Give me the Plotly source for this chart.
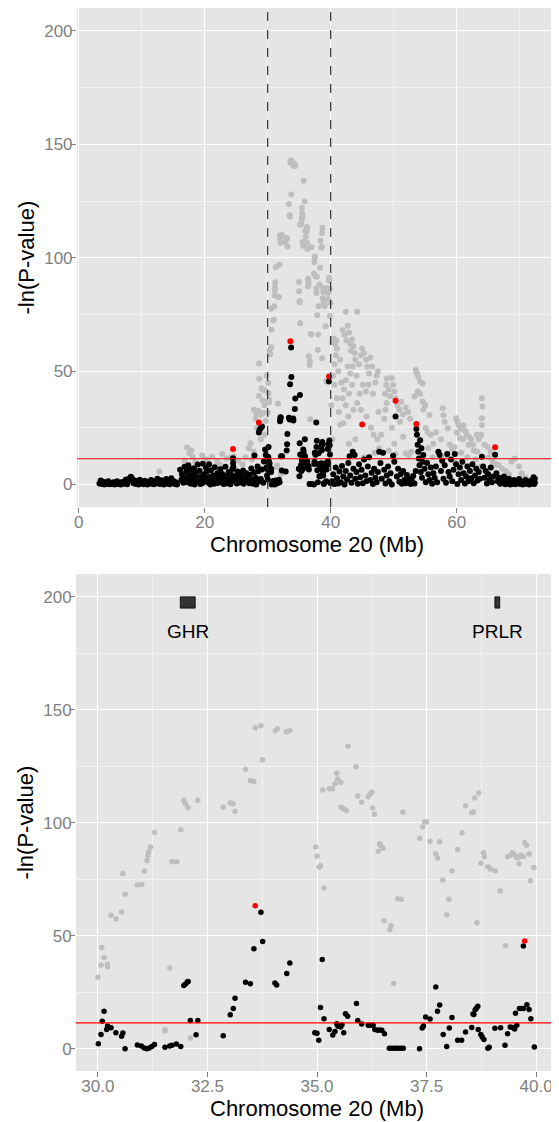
import plotly.graph_objects as go
import pandas as pd

# -ln(P-value) along chromosome 20 as (Mb, value)
# gray = first analysis, black = second analysis, red = top SNPs
gray_pts = [
    (12.8, 5.7),
    (16.8, 10.5), (17.2, 16.3), (17.6, 13.8), (17.9, 15.0), (18.1, 12.3), (18.5, 9.8), (19.6, 12.8),
    (20.3, 11.0), (21.2, 12.3), (22.0, 10.1), (22.5, 8.7), (22.8, 13.5), (23.5, 11.5), (24.0, 11.8),
    (24.6, 12.5), (25.3, 10.5), (26.0, 9.0), (26.5, 12.0), (27.0, 16.0), (27.3, 18.2), (27.5, 11.0),
    (27.8, 14.5), (27.8, 33.0), (28.1, 29.0), (28.2, 31.4), (28.3, 25.0), (28.5, 32.5), (28.6, 39.0),
    (28.65, 53.4), (28.65, 46.6), (28.9, 30.8), (28.9, 20.0), (29.0, 42.4), (29.2, 37.0), (29.3, 41.8),
    (29.3, 31.5), (29.5, 22.0), (29.5, 35.0), (29.6, 41.4), (29.7, 28.0), (29.8, 48.0),
    (30.00, 31.6), (30.07, 36.9), (30.09, 44.8), (30.14, 40.3), (30.22, 37.4), (30.22, 36.3), (30.30, 59.0),
    (30.41, 57.4), (30.54, 60.5), (30.57, 77.5), (30.62, 68.3), (30.90, 72.4), (31.00, 72.7), (31.06, 78.6),
    (31.12, 83.3), (31.14, 85.5), (31.16, 87.1), (31.20, 89.2), (31.29, 95.8), (31.53, 8.4), (31.53, 7.8),
    (31.64, 35.7), (31.69, 82.7), (31.80, 82.7), (31.89, 96.9), (31.96, 109.9), (32.00, 108.4), (32.06, 106.6),
    (32.11, 4.7), (32.28, 110.0), (32.86, 106.9), (33.02, 108.7), (33.08, 108.5), (33.13, 105.0), (33.37, 123.7),
    (33.48, 118.7), (33.56, 118.2), (33.59, 142.0), (33.72, 142.9), (33.76, 127.9), (34.05, 140.7), (34.10, 141.6),
    (34.30, 140.3), (34.38, 140.8), (34.97, 89.3), (35.00, 85.2), (35.05, 80.4), (35.08, 80.9), (35.13, 114.5),
    (35.16, 71.1), (35.28, 115.0), (35.35, 115.0), (35.41, 117.2), (35.45, 121.9), (35.47, 119.4), (35.54, 117.8),
    (35.55, 106.8), (35.61, 106.2), (35.67, 105.3), (35.71, 133.9), (35.89, 124.8), (35.93, 111.8), (36.02, 109.1),
    (36.17, 111.5), (36.21, 112.6), (36.25, 113.5), (36.27, 106.5), (36.31, 103.8), (36.40, 87.4), (36.43, 90.7),
    (36.45, 89.9), (36.51, 88.7), (36.53, 56.6), (36.66, 52.7), (36.69, 54.4), (36.75, 28.8), (36.84, 66.4),
    (36.92, 66.1), (36.96, 104.6), (37.34, 93.0), (37.41, 98.1), (37.46, 100.4), (37.50, 100.3), (37.58, 91.8),
    (37.71, 86.3), (37.75, 84.4), (37.80, 91.6), (37.87, 74.6), (37.96, 59.3), (38.01, 66.1), (38.08, 78.6),
    (38.21, 88.2), (38.31, 95.6), (38.39, 107.5), (38.53, 104.4), (38.57, 104.8), (38.60, 110.9), (38.69, 113.2),
    (38.65, 55.7), (38.74, 82.1), (38.80, 86.7), (38.82, 84.9), (38.90, 80.5), (38.96, 79.5), (39.07, 78.7),
    (39.18, 69.8), (39.30, 45.5), (39.35, 84.9), (39.40, 85.5), (39.46, 86.7), (39.49, 86.2), (39.53, 85.2),
    (39.57, 84.5), (39.61, 81.8), (39.62, 85.0), (39.66, 85.6), (39.71, 85.0), (39.74, 91.2), (39.78, 90.0),
    (39.84, 86.2), (39.87, 74.3), (39.95, 80.2),
    (40.2, 63.0), (40.5, 64.4), (40.9, 63.5), (40.7, 62.0), (41.0, 60.0), (40.8, 57.0), (40.6, 53.0), (40.4, 48.0),
    (40.6, 44.0), (41.0, 38.0), (41.3, 32.0), (41.5, 26.4), (42.0, 27.0), (40.3, 20.0), (40.1, 35.0), (41.2, 50.0),
    (41.7, 45.0), (41.5, 55.0),
    (42.4, 76.2), (44.2, 76.2), (41.9, 68.0), (42.2, 66.0), (42.5, 63.5), (42.7, 70.0), (42.9, 67.0), (43.1, 62.0),
    (43.2, 59.0), (43.4, 64.0), (43.6, 61.0), (43.8, 58.0), (43.9, 55.0), (43.5, 52.0), (43.1, 49.0), (42.7, 52.0),
    (42.4, 46.0), (42.1, 42.0), (41.9, 38.0), (42.4, 35.0), (42.9, 40.0), (43.4, 44.0), (44.1, 48.0), (44.5, 53.0),
    (44.8, 57.0), (45.0, 60.0), (45.3, 58.0), (45.6, 55.0), (45.8, 52.0), (46.1, 49.0), (46.3, 56.0), (46.6, 52.0),
    (46.0, 44.0), (45.6, 41.0), (45.1, 44.0), (44.6, 40.0), (44.2, 36.0), (43.6, 33.0), (42.8, 30.0), (44.8, 33.0),
    (45.7, 30.0), (46.4, 25.0), (46.8, 22.0), (47.0, 14.0), (43.9, 20.0), (42.9, 18.0), (45.3, 12.0), (46.7, 40.0),
    (47.1, 45.0), (47.3, 48.0), (47.5, 50.0),
    (48.0, 22.0), (47.4, 20.0), (48.5, 29.0), (48.7, 33.0), (48.9, 36.0), (48.6, 40.0), (48.8, 44.0), (48.9, 46.8),
    (49.2, 42.0), (49.4, 39.0), (49.7, 47.0), (49.9, 44.0), (50.1, 41.0), (50.3, 38.0), (50.6, 35.0), (50.9, 33.0),
    (51.2, 36.5), (51.5, 31.0), (51.9, 34.0), (52.3, 32.0), (52.6, 29.0), (51.0, 27.7), (51.5, 21.1), (50.1, 18.0),
    (50.3, 13.5), (51.9, 13.8), (52.4, 13.0), (52.8, 14.5), (47.7, 16.0), (49.2, 15.0), (49.7, 25.0), (47.6, 32.0),
    (53.5, 50.5), (53.7, 49.0), (53.9, 47.5), (54.2, 45.4), (54.6, 44.6), (53.3, 38.8), (53.8, 41.0), (54.2, 40.0),
    (54.6, 36.6), (54.7, 33.0), (55.0, 35.0), (55.7, 30.7), (55.1, 24.8), (55.9, 21.9), (55.4, 23.0), (57.8, 33.6),
    (57.9, 30.5), (58.1, 27.7), (56.7, 23.0), (57.5, 20.0), (56.3, 18.0), (58.6, 24.8), (58.9, 17.6), (59.3, 15.4),
    (59.6, 16.5), (57.1, 14.0), (56.2, 12.0), (55.5, 16.0), (58.3, 12.5),
    (59.9, 29.2), (60.1, 27.8), (60.3, 26.3), (60.6, 24.5), (60.0, 23.0), (61.1, 26.0), (61.4, 23.5), (61.6, 21.9),
    (61.0, 20.0), (60.5, 20.5), (62.0, 21.0), (62.3, 20.0), (62.6, 17.5), (61.9, 17.5), (62.7, 15.0), (63.3, 14.5),
    (63.9, 21.9), (63.5, 20.0), (63.2, 21.9), (64.0, 38.0), (64.1, 34.4), (64.0, 29.2), (64.0, 26.3), (64.4, 17.5),
    (64.9, 16.5), (65.4, 14.5), (65.1, 12.0), (65.7, 10.1), (65.6, 7.5), (66.3, 9.0), (66.7, 8.5), (67.2, 7.0),
    (67.8, 6.0), (68.3, 4.5), (68.7, 10.0), (69.2, 11.5), (69.9, 8.0), (70.3, 5.0), (70.9, 3.0), (71.5, 2.0),
    (60.7, 14.0), (61.7, 12.0), (63.0, 11.0), (63.7, 8.0), (59.7, 10.0),
]

black_pts = [
    (3.3, 0.5), (3.5, 1.8), (3.7, 0.2), (3.9, 1.2), (4.1, 0.0), (4.3, 0.8), (4.5, 0.3), (4.7, 1.5), (4.9, 0.1),
    (5.1, 0.6), (5.3, 0.2), (5.5, 1.0), (5.7, 0.0), (5.9, 0.4), (6.1, 1.4), (6.3, 0.2), (6.5, 0.7), (6.7, 0.0),
    (6.9, 1.1), (7.1, 0.3), (7.3, 0.9), (7.5, 2.2), (7.7, 0.1), (7.9, 1.6), (8.1, 2.8), (8.3, 3.4), (8.5, 2.5),
    (8.7, 0.6), (8.9, 1.8), (9.1, 0.2), (9.3, 1.3), (9.5, 0.0), (9.7, 2.1), (9.9, 0.5), (10.1, 1.0), (10.3, 0.1),
    (10.5, 1.7), (10.7, 0.4), (10.9, 0.0), (11.1, 1.2), (11.3, 0.3), (11.5, 2.0), (11.7, 0.8), (11.9, 0.1),
    (12.1, 1.4), (12.3, 0.5), (12.5, 2.6), (12.7, 1.0), (12.9, 0.2), (13.1, 1.9), (13.3, 0.6), (13.5, 0.0),
    (13.7, 1.3), (13.9, 2.4), (14.1, 0.4), (14.3, 1.0), (14.5, 0.1), (14.7, 2.8), (14.9, 0.7), (15.1, 1.5),
    (15.3, 0.2), (15.5, 0.9), (15.6, 0.0),
    (16.1, 6.5), (16.3, 2.0), (16.4, 4.5), (16.6, 0.8), (16.8, 7.8), (16.9, 3.2), (17.1, 5.9), (17.2, 1.0),
    (17.4, 8.5), (17.5, 3.8), (17.7, 6.8), (17.8, 0.4), (18.0, 4.9), (18.1, 2.2), (18.3, 7.2), (18.4, 0.0),
    (18.6, 5.3), (18.8, 3.0), (18.9, 8.8), (19.1, 1.4), (19.2, 6.1), (19.4, 3.6), (19.6, 0.6), (19.7, 9.2),
    (19.9, 4.4), (20.0, 2.0), (20.2, 7.5), (20.3, 5.6), (20.5, 0.9), (20.7, 8.9), (20.8, 3.3), (21.0, 6.3),
    (21.1, 1.6), (21.3, 4.0), (21.5, 0.3), (21.6, 7.6), (21.8, 2.6), (22.0, 5.0), (22.1, 0.7), (22.3, 3.5),
    (22.5, 6.7), (22.6, 1.2), (22.8, 4.6), (23.0, 0.2), (23.1, 2.8), (23.3, 7.9), (23.5, 3.9), (23.6, 1.0),
    (23.8, 5.5), (24.0, 2.3), (24.1, 0.1), (24.3, 4.2), (24.4, 6.9), (24.5, 11.6), (24.5, 9.5), (24.55, 7.8),
    (24.7, 1.8), (24.9, 3.5), (25.1, 0.5), (25.2, 5.8), (25.4, 2.5), (25.6, 0.9), (25.7, 4.7), (25.9, 1.6),
    (26.1, 6.2), (26.2, 0.3), (26.4, 3.1), (26.6, 5.0), (26.7, 1.3), (26.9, 2.7), (27.1, 0.6), (27.2, 4.3),
    (27.4, 7.1), (27.6, 2.0), (27.7, 0.4), (27.9, 5.4), (27.9, 12.8), (28.1, 3.0), (28.3, 1.1), (28.4, 8.0),
    (28.5, 5.9), (28.6, 23.0), (28.7, 24.0), (28.9, 2.4), (28.9, 24.8), (29.1, 6.6), (29.1, 25.6), (29.3, 0.8),
    (29.4, 10.2), (29.6, 15.5), (29.7, 13.0), (29.8, 7.5), (29.9, 4.0),
    (16.5, 3.5), (17.0, 2.5), (17.6, 1.8), (18.2, 4.0), (18.7, 2.0), (19.3, 0.2), (19.8, 1.5), (20.4, 3.0),
    (20.9, 0.0), (21.4, 2.0), (22.2, 2.5), (22.9, 1.6), (23.4, 0.5), (24.2, 2.1), (25.0, 1.3), (25.8, 3.3),
    (26.5, 1.9), (27.3, 1.0), (28.2, 0.0), (29.0, 1.5),
    (30.01, 2.2), (30.07, 6.3), (30.10, 12.1), (30.14, 16.6), (30.20, 8.5), (30.22, 10.0), (30.30, 9.3),
    (30.41, 7.0), (30.54, 5.5), (30.57, 6.9), (30.62, 0.0), (30.90, 1.6), (30.99, 1.2), (31.06, 0.3),
    (31.12, 0.0), (31.17, 0.3), (31.23, 1.0), (31.29, 1.8), (31.53, 0.6), (31.64, 1.2), (31.69, 1.5),
    (31.79, 2.1), (31.89, 1.0), (31.96, 27.9), (32.00, 28.6), (32.04, 29.5), (32.06, 29.7), (32.11, 12.5),
    (32.24, 6.2), (32.28, 12.5), (32.86, 5.7), (33.02, 15.0), (33.09, 17.8), (33.13, 22.3), (33.37, 29.4),
    (33.48, 28.7), (33.56, 44.2), (33.72, 60.4), (33.76, 47.4), (34.04, 29.1), (34.08, 28.2), (34.31, 33.3),
    (34.38, 37.9), (34.95, 7.0), (35.00, 6.8), (35.04, 3.7), (35.08, 18.2), (35.12, 39.5), (35.16, 13.2),
    (35.28, 8.5), (35.36, 6.0), (35.41, 7.6), (35.45, 11.0), (35.48, 9.9), (35.51, 10.1), (35.54, 9.6),
    (35.57, 10.6), (35.61, 7.0), (35.65, 15.4), (35.70, 14.3), (35.90, 20.0), (35.93, 12.5), (36.02, 10.9),
    (36.17, 10.3), (36.23, 10.3), (36.28, 10.3), (36.32, 8.5), (36.38, 8.1), (36.43, 8.2), (36.48, 8.1),
    (36.54, 6.6), (36.65, 0.2), (36.70, 0.2), (36.76, 0.2), (36.81, 0.2), (36.86, 0.2), (36.92, 0.2),
    (36.97, 0.2), (37.34, 0.0), (37.40, 9.1), (37.43, 10.0), (37.48, 14.0), (37.58, 13.1), (37.71, 27.3),
    (37.75, 16.6), (37.80, 19.3), (37.88, 6.3), (37.96, 1.0), (38.02, 9.1), (38.08, 13.8), (38.21, 3.7),
    (38.30, 3.7), (38.39, 7.4), (38.53, 9.4), (38.56, 15.3), (38.58, 15.1), (38.61, 17.2), (38.64, 17.9),
    (38.67, 18.8), (38.68, 8.5), (38.74, 6.3), (38.77, 5.2), (38.81, 4.0), (38.90, 0.2), (38.93, 0.6),
    (39.06, 9.0), (39.19, 9.3), (39.29, 1.5), (39.35, 6.6), (39.41, 9.6), (39.46, 9.4), (39.51, 8.7),
    (39.56, 10.3), (39.53, 15.7), (39.62, 17.8), (39.66, 17.8), (39.71, 17.8), (39.71, 45.4), (39.79, 19.4),
    (39.84, 17.3), (39.88, 13.2), (39.96, 0.7),
    (40.2, 1.5), (40.4, 4.5), (40.6, 0.2), (40.8, 7.5), (41.0, 2.8), (41.2, 0.5), (41.4, 5.8), (41.6, 1.0),
    (41.8, 8.2), (42.0, 3.5), (42.2, 0.0), (42.4, 6.0), (42.6, 2.2), (42.8, 9.5), (43.0, 12.5), (43.1, 4.0),
    (43.3, 0.8), (43.5, 14.5), (43.6, 7.0), (43.8, 13.0), (43.9, 2.5), (44.1, 5.5), (44.3, 0.3), (44.5, 9.0),
    (44.7, 3.2), (44.9, 6.5), (45.1, 0.6), (45.3, 11.0), (45.5, 4.0), (45.7, 1.5), (45.9, 8.0), (46.1, 12.0),
    (46.3, 2.0), (46.5, 5.2), (46.7, 0.2), (46.9, 7.0), (47.1, 3.0), (47.3, 1.0), (47.5, 5.5), (47.7, 14.5),
    (47.9, 9.5), (48.1, 2.5), (48.3, 14.0), (48.5, 6.5), (48.7, 0.5), (48.9, 4.0), (49.1, 8.0), (49.3, 1.5),
    (49.5, 5.0), (49.7, 0.0), (49.9, 12.7), (50.1, 10.0), (50.3, 30.0), (50.5, 3.5), (50.7, 7.0), (50.9, 1.2),
    (51.1, 4.5), (51.3, 0.4), (51.5, 6.0), (51.7, 2.0), (51.9, 0.6), (52.1, 4.2), (52.3, 1.0), (52.5, 2.5),
    (52.7, 0.2), (52.9, 1.5), (53.1, 3.8), (53.3, 0.5), (53.5, 6.0), (53.6, 24.5), (53.7, 22.0), (53.8, 17.5),
    (53.9, 14.5), (54.0, 11.5), (54.1, 8.5), (54.2, 19.5), (54.3, 5.5), (54.4, 16.0), (54.5, 3.0), (54.6, 10.0),
    (54.7, 13.0), (54.9, 7.0), (55.1, 1.0), (55.3, 9.5), (55.5, 4.5), (55.7, 2.0), (55.9, 7.5), (56.1, 0.4),
    (56.3, 5.0), (56.5, 3.0), (56.7, 8.0), (56.9, 1.0), (57.1, 14.5), (57.3, 13.0), (57.5, 6.0), (57.7, 10.5),
    (57.9, 2.5), (58.1, 8.5), (58.3, 0.8), (58.5, 13.5), (58.7, 5.5), (58.9, 3.5), (59.1, 11.0), (59.3, 1.5),
    (59.5, 6.5), (59.7, 13.5), (59.9, 9.0), (60.1, 0.2), (60.3, 4.5), (60.5, 7.5), (60.7, 2.0), (60.9, 10.0),
    (61.1, 5.0), (61.3, 0.5), (61.5, 3.5), (61.7, 8.0), (61.9, 1.5), (62.1, 6.0), (62.3, 2.8), (62.5, 9.0),
    (62.7, 0.6), (62.9, 4.0), (63.1, 7.0), (63.3, 1.8), (63.5, 5.5), (63.7, 2.5), (64.0, 12.3), (64.2, 8.0),
    (64.4, 3.0), (64.6, 6.0), (64.8, 0.5), (65.0, 4.5), (65.2, 2.0), (65.4, 7.5), (65.6, 1.0), (65.8, 3.5),
    (66.1, 13.1), (66.3, 5.0), (66.5, 1.5), (66.7, 3.0), (66.9, 0.3), (67.1, 2.2), (67.3, 0.8), (67.5, 3.5),
    (67.7, 0.1), (67.9, 1.5), (68.1, 0.5), (68.3, 2.6), (68.5, 0.0), (68.7, 1.2), (68.9, 0.4), (69.1, 2.0),
    (69.3, 0.1), (69.5, 1.0), (69.7, 0.6), (69.9, 2.4), (70.1, 0.2), (70.3, 1.3), (70.5, 0.0), (70.7, 0.9),
    (70.9, 2.0), (71.1, 0.3), (71.3, 1.1), (71.5, 0.0), (71.7, 1.6), (71.9, 0.4), (72.0, 1.0), (72.2, 3.2),
    (72.3, 0.2), (72.4, 0.8), (72.4, 2.5),
]

red_pts = [
    (24.5, 15.7), (28.6, 27.4), (33.59, 63.2), (39.74, 47.6),
    (45.0, 26.5), (50.3, 36.9), (53.6, 26.7), (66.1, 16.4),
]

genes = ["GHR", "PRLR"]
gene_start = [31.88, 39.06]
gene_end = [32.22, 39.17]
gene_lo, gene_hi, label_y = 195, 200, 184.5
threshold = 11.4
window = [30, 40]

gray = pd.DataFrame(gray_pts, columns=["mb", "nlp"])
black = pd.DataFrame(black_pts, columns=["mb", "nlp"])
red = pd.DataFrame(red_pts, columns=["mb", "nlp"])

def in_window(d):
    return d[(d.mb >= window[0]) & (d.mb <= window[1])]

FONT = "Liberation Sans, Arial, sans-serif"
fig = go.Figure()

for xa, ya, sz, sub in [("x", "y", 6, lambda d: d), ("x2", "y2", 5.5, in_window)]:
    for d, col in [(gray, "#BEBEBE"), (black, "#000000"), (red, "#FF0000")]:
        s = sub(d)
        fig.add_trace(go.Scatter(x=s.mb, y=s.nlp, mode="markers", xaxis=xa, yaxis=ya,
                                 marker=dict(color=col, size=sz, line=dict(width=0)),
                                 showlegend=False, hoverinfo="skip"))

# threshold lines
for xd, ya in [("x domain", "y"), ("x2 domain", "y2")]:
    fig.add_shape(type="line", xref=xd, yref=ya, x0=0, x1=1, y0=threshold, y1=threshold,
                  line=dict(color="#FF0000", width=1.1))
# zoom window in the top panel
for w in window:
    fig.add_shape(type="line", xref="x", yref="y domain", x0=w, x1=w, y0=0, y1=1,
                  line=dict(color="#222222", width=1.1, dash="dash"))
# genes
for g, s0, s1 in zip(genes, gene_start, gene_end):
    fig.add_shape(type="rect", xref="x2", yref="y2", x0=s0, x1=s1, y0=gene_lo, y1=gene_hi,
                  fillcolor="#333333", line=dict(color="#000000", width=0.8))
    fig.add_annotation(xref="x2", yref="y2", x=(s0 + s1) / 2, y=label_y, text=g, showarrow=False,
                       font=dict(family=FONT, size=19, color="#000000"))

# axis titles (panel heights in px: 499 top, 497 bottom)
for xd, yd, ph in [("x domain", "y domain", 499), ("x2 domain", "y2 domain", 497)]:
    fig.add_annotation(xref=xd, yref=yd, x=0.5, y=-37 / ph, yanchor="middle", showarrow=False,
                       borderpad=0, text="Chromosome 20 (Mb)",
                       font=dict(family=FONT, size=22, color="#000000"))
    fig.add_annotation(xref=xd, yref=yd, x=-50 / 481, y=0.5, xanchor="center", textangle=-90,
                       showarrow=False, borderpad=0, text="-ln(P-value)",
                       font=dict(family=FONT, size=22, color="#000000"))

tick_font = dict(family=FONT, size=17, color="#7F7F7F")
common = dict(showgrid=True, gridcolor="#FFFFFF", gridwidth=1.1, zeroline=False, showline=False,
              ticks="outside", ticklen=5, tickwidth=1, tickcolor="#7F7F7F", tickfont=tick_font)
yticks = [0, 50, 100, 150, 200]
yminor = dict(tickvals=[25, 75, 125, 175], showgrid=True, gridcolor="#F2F2F2", gridwidth=0.6, ticks="")

# the page body adds an 8px offset, so the figure is 8px smaller than the window
fig.update_layout(
    width=551, height=1114,
    margin=dict(l=68, r=1, t=0, b=48),
    paper_bgcolor="#FFFFFF", plot_bgcolor="#E5E5E5",
    font=dict(family=FONT),
    xaxis=dict(domain=[0.002, 1], range=[-0.27, 76.08], anchor="y", tickvals=[0, 20, 40, 60],
               ticklabelstandoff=-5,
               minor=dict(tickvals=[10, 30, 50, 70], showgrid=True, gridcolor="#F2F2F2",
                          gridwidth=0.6, ticks=""), **common),
    yaxis=dict(domain=[1 - 499 / 1066, 1], range=[-9.9, 210.1], anchor="x", tickvals=yticks,
               ticklabelstandoff=-5, minor=yminor, **common),
    xaxis2=dict(domain=[0, 1], range=[29.5, 40.5], anchor="y2",
                tickvals=[30, 32.5, 35, 37.5, 40], ticktext=["30.0", "32.5", "35.0", "37.5", "40.0"],
                ticklabelstandoff=-5,
                minor=dict(tickvals=[31.25, 33.75, 36.25, 38.75], showgrid=True, gridcolor="#F2F2F2",
                           gridwidth=0.6, ticks=""), **common),
    yaxis2=dict(domain=[3 / 1066, 500 / 1066], range=[-9.9, 210.1], anchor="x2", tickvals=yticks,
                ticklabelstandoff=-5, minor=yminor, **common),
)

fig.write_html("out.html")
